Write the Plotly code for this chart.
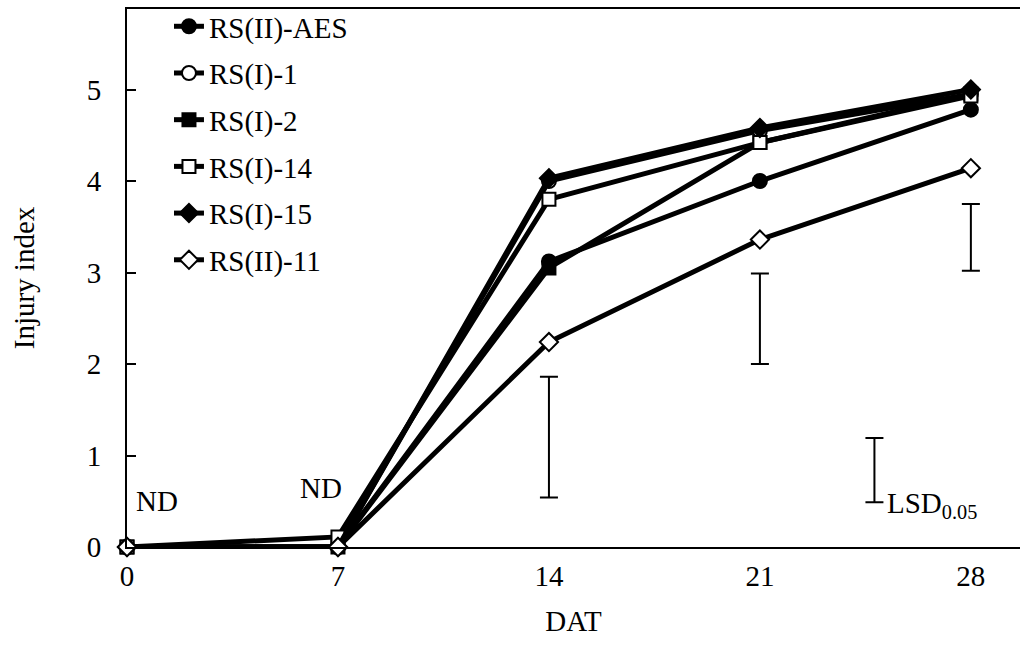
import plotly.graph_objects as go

days = [0, 7, 14, 21, 28]
series_names = ["RS(II)-AES", "RS(I)-1", "RS(I)-2", "RS(I)-14", "RS(I)-15", "RS(II)-11"]
rs2_aes = [0, 0, 3.12, 4.00, 4.78]
rs1_1 = [0, 0, 4.00, 4.55, 4.95]
rs1_2 = [0, 0, 3.05, 4.42, 4.95]
rs1_14 = [0, 0.11, 3.80, 4.42, 4.93]
rs1_15 = [0, 0, 4.03, 4.58, 5.00]
rs2_11 = [0, 0, 2.24, 3.36, 4.14]

lsd_x = [14, 21, 28, 24.8]
lsd_low = [0.54, 2.00, 3.02, 0.49]
lsd_high = [1.86, 2.99, 3.75, 1.19]

symbols = ["circle", "circle-open", "square", "square-open", "diamond", "diamond-open"]
values = [rs2_aes, rs1_1, rs1_2, rs1_14, rs1_15, rs2_11]

FONT = "Liberation Serif"
FS = 29
fig = go.Figure()

for name, sym, vals in zip(series_names, symbols, values):
    is_open = sym.endswith("open")
    base = sym.replace("-open", "")
    size = 13 if base == "square" else 14
    fig.add_trace(go.Scatter(
        x=days, y=vals, name=name, mode="lines+markers",
        line=dict(color="black", width=5),
        marker=dict(symbol=base, size=size,
                    color="white" if is_open else "black",
                    line=dict(color="black", width=2)),
        cliponaxis=False, legendgroup=name,
    ))

mid = [(a + b) / 2 for a, b in zip(lsd_low, lsd_high)]
half = [(b - a) / 2 for a, b in zip(lsd_low, lsd_high)]
fig.add_trace(go.Scatter(
    x=lsd_x, y=mid, mode="markers", showlegend=False, hoverinfo="skip",
    marker=dict(size=1, color="rgba(0,0,0,0)"),
    error_y=dict(type="data", array=half, visible=True, color="black", thickness=2, width=9),
))

fig.add_annotation(x=1.0, y=0.5, text="ND", showarrow=False, font=dict(family=FONT, size=FS, color="black"))
fig.add_annotation(x=6.45, y=0.65, text="ND", showarrow=False, font=dict(family=FONT, size=FS, color="black"))
fig.add_annotation(x=25.15, y=0.46, text="LSD<sub>0.05</sub>", showarrow=False, xanchor="left",
                   font=dict(family=FONT, size=FS, color="black"))

fig.update_layout(
    width=1020, height=664,
    margin=dict(l=127, r=0, t=9, b=117),
    plot_bgcolor="white", paper_bgcolor="white",
    font=dict(family=FONT, size=FS, color="black"),
    showlegend=True,
    legend=dict(x=0.047, y=1.015, xanchor="left", yanchor="top", bgcolor="rgba(0,0,0,0)",
                font=dict(family=FONT, size=FS), tracegroupgap=6, itemwidth=30),
    xaxis=dict(range=[0, 29.63], tickvals=days, ticks="", showline=True, linecolor="black",
               linewidth=2, mirror=True, showgrid=False, zeroline=False,
               tickfont=dict(family=FONT, size=FS), ticklabelstandoff=2,
               title=dict(text="DAT", font=dict(family=FONT, size=FS), standoff=20)),
    yaxis=dict(range=[0, 5.88], tickvals=[0, 1, 2, 3, 4, 5], ticks="inside", ticklen=9,
               tickcolor="black", tickwidth=2, showline=True, linecolor="black", linewidth=2,
               showgrid=False, zeroline=False, tickfont=dict(family=FONT, size=FS),
               ticklabelstandoff=18,
               title=dict(text="Injury index", font=dict(family=FONT, size=FS), standoff=44)),
)

fig.write_html("out.html")
